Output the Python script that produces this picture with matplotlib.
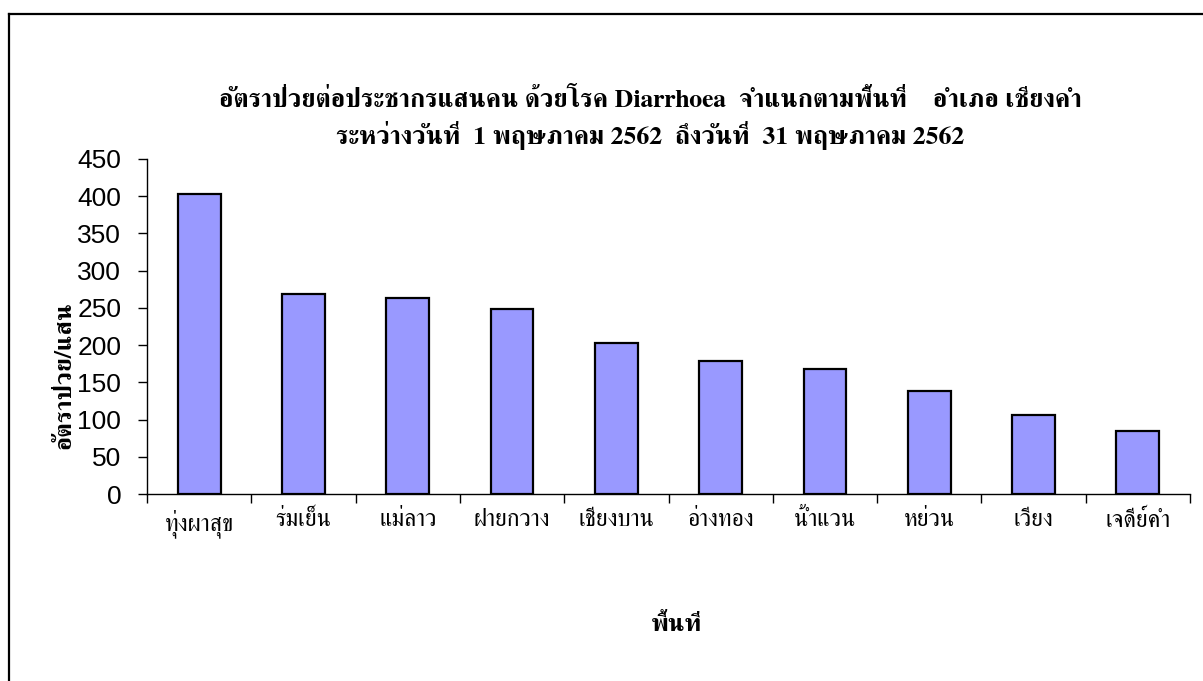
import matplotlib
matplotlib.use('Agg')
import matplotlib.pyplot as plt
import numpy as np
from matplotlib.lines import Line2D
from matplotlib.ticker import FixedLocator, NullFormatter

# ---------------- data ----------------
areas = ['ทุ่งผาสุข', 'ร่มเย็น', 'แม่ลาว', 'ฝายกวาง', 'เชียงบาน',
         'อ่างทอง', 'น้ำแวน', 'หย่วน', 'เวียง', 'เจดีย์คำ']
rates = [403, 269, 263, 249, 203, 179, 168, 139, 106, 84]
yticks = [0, 50, 100, 150, 200, 250, 300, 350, 400, 450]

title1 = 'อัตราป่วยต่อประชากรแสนคน ด้วยโรค Diarrhoea  จำแนกตามพื้นที่    อำเภอ เชียงคำ'
title2 = 'ระหว่างวันที่  1 พฤษภาคม 2562  ถึงวันที่  31 พฤษภาคม 2562'
ylab = 'อัตราป่วย/แสน'
xlab = 'พื้นที่'

thai = ['FreeSerif', 'DejaVu Serif']
num = ['Liberation Sans', 'DejaVu Sans']

W, H = 1203, 681
fig = plt.figure(figsize=(W / 100, H / 100), dpi=100)
fig.patch.set_facecolor('white')

# outer frame (only top/left visible in the picture)
fig.add_artist(Line2D([8.5 / W, 8.5 / W], [0, 1 - 13.5 / H], color='black', lw=1.6))
fig.add_artist(Line2D([8.5 / W, 1], [1 - 13.5 / H, 1 - 13.5 / H], color='black', lw=1.6))

ax = fig.add_axes([147 / W, 1 - 494 / H, (1190 - 147) / W, (494 - 159) / H])

x = np.arange(len(areas))
ax.bar(x, rates, width=0.41, color='#9999FF', edgecolor='black', linewidth=1.6, zorder=3)

ax.set_xlim(-0.5, len(areas) - 0.5)
ax.set_ylim(0, 450)

for s in ['top', 'right']:
    ax.spines[s].set_visible(False)
for s in ['left', 'bottom']:
    ax.spines[s].set_linewidth(1.0)
    ax.spines[s].set_color('black')

ax.set_yticks(yticks)
ax.set_yticklabels([str(v) for v in yticks], fontsize=19, family=num)
ax.tick_params(axis='y', direction='out', length=6.5, width=1.0, pad=12)

ax.set_xticks(x)
ax.set_xticklabels(areas, fontsize=17, family=thai)
ax.tick_params(axis='x', which='major', length=0, pad=11)
ax.xaxis.set_minor_locator(FixedLocator(np.arange(len(areas) + 1) - 0.5))
ax.xaxis.set_minor_formatter(NullFormatter())
ax.tick_params(axis='x', which='minor', direction='out', length=6.5, width=1.0)

ax.set_ylabel(ylab, fontsize=18, fontweight='bold', family=thai)
ax.yaxis.set_label_coords(-0.068, 0.355)

fig.text(650 / W, 1 - 100 / H, title1, ha='center', va='center',
         fontsize=18.5, fontweight='bold', family=thai)
fig.text(650 / W, 1 - 135 / H, title2, ha='center', va='center',
         fontsize=18.5, fontweight='bold', family=thai)
fig.text(676 / W, 1 - 625 / H, xlab, ha='center', va='center',
         fontsize=18, fontweight='bold', family=thai)

fig.savefig('out.png', dpi=100, facecolor='white')
